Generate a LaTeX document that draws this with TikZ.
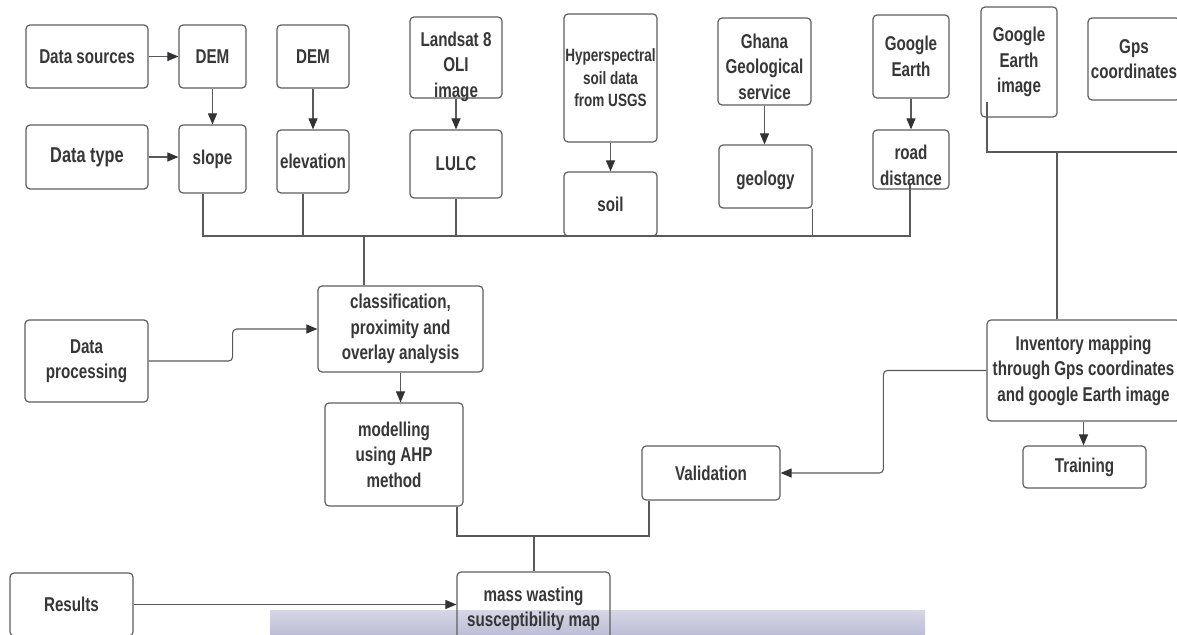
\documentclass[tikz,border=0pt]{standalone}
\usepackage{fontspec}
\newfontfamily\dfb{Liberation Sans Bold}[FakeStretch=0.76]
\usetikzlibrary{arrows.meta,calc}
\definecolor{boxc}{RGB}{95,95,95}
\definecolor{linec}{RGB}{90,90,90}
\definecolor{txtc}{RGB}{55,55,55}
\definecolor{arrc}{RGB}{50,50,55}
\definecolor{bandtop}{RGB}{214,214,230}
\definecolor{bandbot}{RGB}{190,190,214}
\tikzset{
  txt/.style={align=center, text=txtc, inner sep=0pt, font=\dfb\fontsize{20}{25.5}\selectfont},
  box/.style={txt, draw=boxc, line width=1.2pt, rounded corners=4pt},
  conn/.style={draw=linec, line width=1.1pt},
  arr/.style={conn, -{Triangle[length=11pt,width=9pt,color=arrc]}},
}
\begin{document}
\begin{tikzpicture}[x=1pt,y=-1pt]
\useasboundingbox (0,0) rectangle (1177,634);
\clip (0,0) rectangle (1177,634);
\fill[white] (0,0) rectangle (1177,634);
% watermark band
\shade[top color=bandtop, bottom color=bandbot] (270,610) rectangle (925,634);

% top row
\node[box, minimum width=122pt, minimum height=63pt] (dsrc) at (87,56.5) {Data sources};
\node[box, minimum width=67pt, minimum height=63pt] (dem1) at (212.5,56.5) {DEM};
\node[box, minimum width=72pt, minimum height=63pt] (dem2) at (313,56.5) {DEM};
\node[box, minimum width=122pt, minimum height=64pt, font=\dfb\fontsize{21.5}{26}\selectfont] (dtype) at (87,157) {Data type};
\node[box, minimum width=67pt, minimum height=68pt] (slope) at (212.5,159) {slope};
\node[box, minimum width=72pt, minimum height=63pt] (elev) at (313,161.5) {elevation};
\node[box, minimum width=92pt, minimum height=81pt,
  label={[txt, yshift=-9pt]center:Landsat 8\\OLI\\image}] (landsat) at (456,57.5) {};
\node[box, minimum width=92pt, minimum height=68pt] (lulc) at (456,164) {LULC};
\node[box, minimum width=93pt, minimum height=128pt, font=\dfb\fontsize{17.8}{22.5}\selectfont] (hyper) at (610.5,78) {Hyperspectral\\soil data\\from USGS};
\node[box, minimum width=93pt, minimum height=64pt] (soil) at (610.5,204) {soil};
\node[box, minimum width=93pt, minimum height=87pt,
  label={[txt, yshift=-5pt]center:Ghana\\Geological\\service}] (ghana) at (764.5,61.5) {};
\node[box, minimum width=93pt, minimum height=63pt,
  label={[txt, yshift=-4pt]center:geology}] (geol) at (765.5,176.5) {};
\node[box, minimum width=76pt, minimum height=83pt] (gearth) at (911,56.5) {Google\\Earth};
\node[box, minimum width=76pt, minimum height=59pt,
  label={[txt, yshift=-6pt]center:road\\distance}] (road) at (911,159.5) {};
\node[box, minimum width=76pt, minimum height=110pt] (gei) at (1019,62) {Google\\Earth\\image};
\node[box, minimum width=92pt, minimum height=82pt] (gps) at (1134,59) {Gps\\coordinates};

% middle / bottom
\node[box, minimum width=123pt, minimum height=82pt] (dproc) at (86.5,361) {Data\\processing};
\node[box, minimum width=165pt, minimum height=86pt] (class) at (400.5,329) {classification,\\proximity and\\overlay analysis};
\node[box, minimum width=138pt, minimum height=103pt] (model) at (394,454.5) {modelling\\using AHP\\method};
\node[box, minimum width=138pt, minimum height=54pt] (val) at (711,473) {Validation};
\node[box, minimum width=193pt, minimum height=101pt] (inv) at (1083.5,370.5) {Inventory mapping\\through Gps coordinates\\and google Earth image};
\node[box, minimum width=123pt, minimum height=42pt] (train) at (1084.5,467) {Training};
\node[box, minimum width=123pt, minimum height=63pt] (results) at (71.5,604.5) {Results};
\node[box, minimum width=153pt, minimum height=74pt] (mass) at (533.5,609) {mass wasting\\susceptibility map};

% coordinates for junctions
\coordinate (b1) at (203,236);
\coordinate (b2) at (910,236);
\coordinate (b3) at (364,236);
\coordinate (roadIn) at (910,185);
\coordinate (mj1) at (457,536);
\coordinate (mj2) at (649,536);
\coordinate (mj) at (534,536);
\coordinate (g1) at (987,102);
\coordinate (g2) at (987,152);
\coordinate (g3) at (1190,152);
\coordinate (g4) at (1057,152);

% arrows top
\draw[arr] (dsrc.east) -- (dsrc.east -| dem1.west);
\draw[arr] (dem1.south) -- (slope.north);
\draw[arr] (dtype.east) -- (dtype.east -| slope.west);
\draw[arr] (dem2.south) -- (dem2.south |- elev.north);
\draw[arr] (landsat.south) -- (landsat.south |- lulc.north);
\draw[arr] (hyper.south) -- (hyper.south |- soil.north);
\draw[arr] (ghana.south) -- (ghana.south |- geol.north);
\draw[arr] (gearth.south) -- (gearth.south |- road.north);

% bus
\draw[conn] (b1 |- slope.south) -- (b1) -- (b2) -- (roadIn);
\draw[conn] ([xshift=-10pt]elev.south) -- ([xshift=-10pt]elev.south |- b1);
\draw[conn] (lulc.south) -- (lulc.south |- b1);
\draw[conn] (geol.south east) -- (geol.south east |- b1);
\draw[conn] (b3) -- (b3 |- class.north);

% processing
\draw[arr, rounded corners=4pt] (dproc.east) -- ++(84,0) |- (class.west);
\draw[arr] (class.south) -- (class.south |- model.north);
\draw[conn] (mj1 |- model.south) -- (mj1) -- (mj2) -- (mj2 |- val.south);
\draw[conn] (mj) -- (mj |- mass.north);
\draw[arr] (results.east) -- (results.east -| mass.west);

% inventory
\draw[conn] (g1) -- (g2) -- (g3);
\draw[conn] (g4) -- (g4 |- inv.north);
\draw[arr, rounded corners=4pt] (inv.west) -- ++(-103,0) |- (val.east);
\draw[arr] (inv.south) -- (inv.south |- train.north);
\end{tikzpicture}
\end{document}
